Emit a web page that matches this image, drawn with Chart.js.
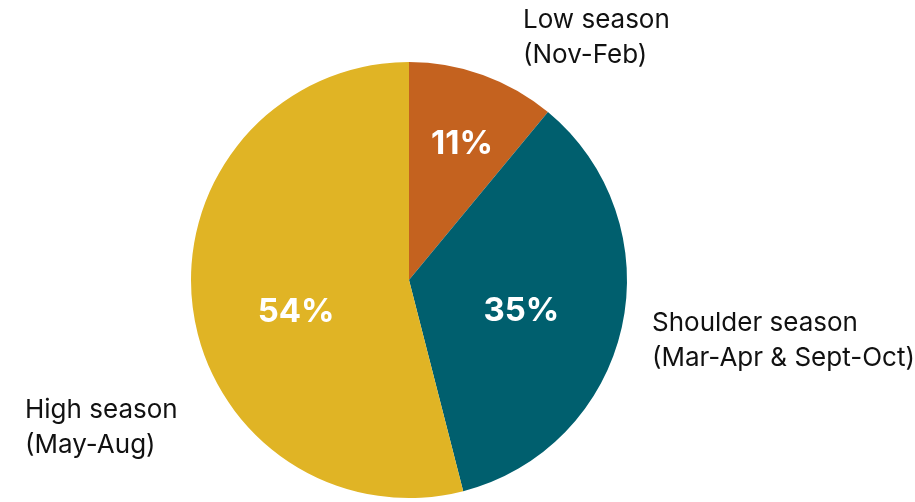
<!DOCTYPE html>
<html>
<head>
<meta charset="utf-8">
<script src="https://cdn.jsdelivr.net/npm/chart.js@4"></script>
<style>
  html, body { margin: 0; padding: 0; background: #fff; }
  #wrap { width: 915px; height: 502px; }
</style>
</head>
<body>
<div id="wrap"><canvas id="myChart" width="915" height="502"></canvas></div>
<script>
// data
let categories = ["Low season", "Shoulder season", "High season"];
let subLabels = ["(Nov-Feb)", "(Mar-Apr & Sept-Oct)", "(May-Aug)"];
let shares = [11, 35, 54];
let colors = ["#C4621F", "#005F6E", "#E0B425"];

// where the percent text sits: fraction of radius, fraction along the slice
let pctRadius = [0.674, 0.533, 0.536];
let pctAlong = [0.533, 0.517, 0.46];
// outside label anchors (left x, first line middle y)
let labelPos = [[523, 20], [652, 323], [25, 410]];

let labelsPlugin = {
  id: "sliceLabels",
  afterDatasetsDraw(chart) {
    const ctx = chart.ctx;
    const meta = chart.getDatasetMeta(0);
    ctx.save();
    meta.data.forEach((arc, i) => {
      let a = arc.startAngle + (arc.endAngle - arc.startAngle) * pctAlong[i];
      let r = arc.outerRadius * pctRadius[i];
      let x = arc.x + Math.cos(a) * r;
      let y = arc.y + Math.sin(a) * r + 1.5;
      ctx.fillStyle = "#fff";
      ctx.font = "bold 33px Inter, 'Noto Sans', sans-serif";
      ctx.textAlign = "center";
      ctx.textBaseline = "middle";
      ctx.fillText(shares[i] + "%", x, y);

      ctx.fillStyle = "#111";
      ctx.font = "26px Inter, 'Noto Sans', sans-serif";
      ctx.textAlign = "left";
      let [lx, ly] = labelPos[i];
      ctx.fillText(categories[i], lx, ly);
      ctx.fillText(subLabels[i], lx, ly + 35);
    });
    ctx.restore();
  },
};

const ctx = document.getElementById("myChart").getContext("2d");
const myChart = new Chart(ctx, {
  type: "pie",
  data: {
    labels: categories,
    datasets: [
      {
        data: shares,
        backgroundColor: colors,
        borderWidth: 0,
      },
    ],
  },
  options: {
    responsive: false,
    animation: false,
    layout: { padding: { left: 191, right: 288, top: 62, bottom: 4 } },
    plugins: {
      legend: { display: false },
      tooltip: { enabled: false },
    },
  },
  plugins: [labelsPlugin],
});
</script>
</body>
</html>
